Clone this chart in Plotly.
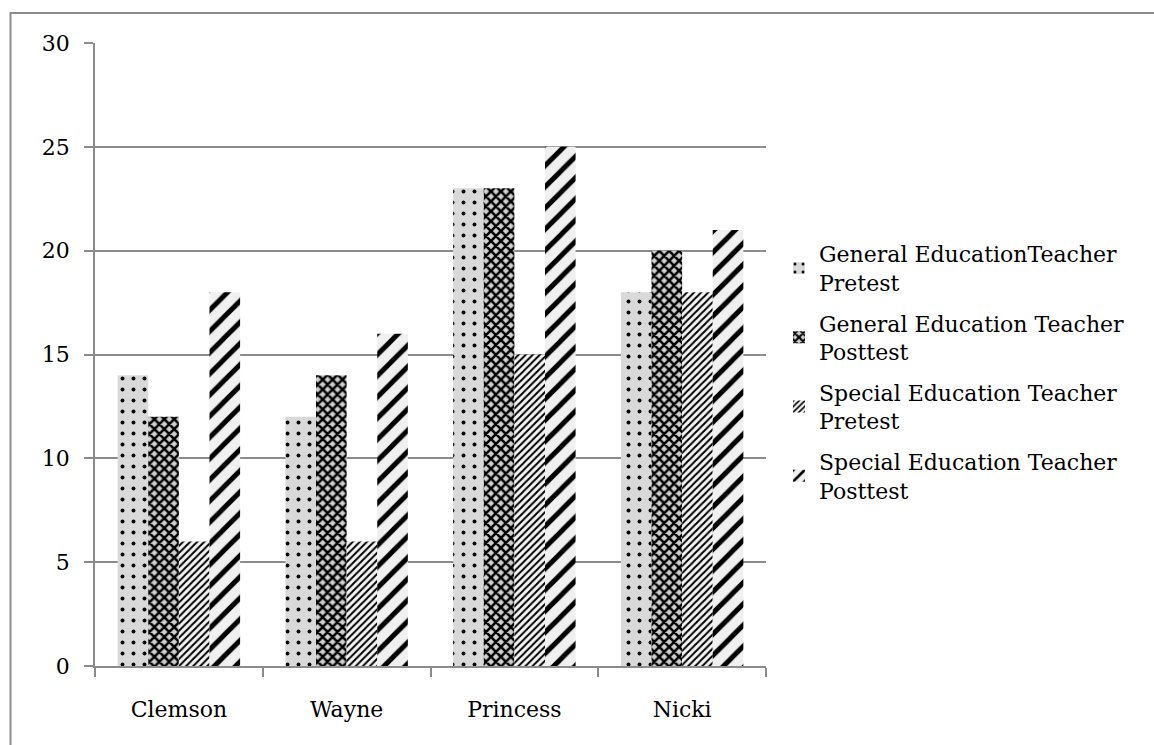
import plotly.graph_objects as go

categories = ["Clemson", "Wayne", "Princess", "Nicki"]
series_names = [
    "General EducationTeacher<br>Pretest",
    "General Education Teacher<br>Posttest",
    "Special Education Teacher<br>Pretest",
    "Special Education Teacher<br>Posttest",
]
gen_pre = [14, 12, 23, 18]
gen_post = [12, 14, 23, 20]
spec_pre = [6, 6, 15, 18]
spec_post = [18, 16, 25, 21]
values = [gen_pre, gen_post, spec_pre, spec_post]

patterns = [
    dict(shape=".", size=11, solidity=0.1, fgcolor="black", bgcolor="#d9d9d9", fillmode="replace"),
    dict(shape="x", size=7, solidity=0.6, fgcolor="black", bgcolor="#d0d0d0", fillmode="replace"),
    dict(shape="/", size=5, solidity=0.4, fgcolor="black", bgcolor="#f4f4f4", fillmode="replace"),
    dict(shape="/", size=15, solidity=0.33, fgcolor="black", bgcolor="#f0f0f0", fillmode="replace"),
]

FONT = "DejaVu Serif"
fig = go.Figure()
for i, (name, vals) in enumerate(zip(series_names, values)):
    fig.add_trace(go.Bar(
        x=categories, y=vals, name=name,
        legendgroup=f"g{i}",
        marker=dict(color="#f0f0f0", line=dict(width=0), pattern=patterns[i]),
    ))

L, R, T, B = 95, 766, 43, 666
W, H = 1154, 745
pw, ph = R - L, B - T

def px(x):
    return (x - L) / pw

def py(y):
    return (B - y) / ph

fig.update_layout(
    width=W, height=H,
    margin=dict(l=L, r=W - R, t=T, b=H - B, pad=0),
    paper_bgcolor="white", plot_bgcolor="white",
    barmode="group", bargap=0.27, bargroupgap=0,
    font=dict(family=FONT, size=22, color="black"),
    showlegend=True,
    legend=dict(x=px(779), xanchor="left", y=py(372), yanchor="middle",
                font=dict(family=FONT, size=22, color="black"),
                tracegroupgap=9, itemwidth=30, bgcolor="rgba(0,0,0,0)"),
    xaxis=dict(showline=True, linecolor="#8c8c8c", linewidth=1.5,
               ticks="outside", tickson="boundaries", ticklen=9, tickcolor="#8c8c8c",
               tickwidth=1.5, ticklabelstandoff=23, showgrid=False),
    yaxis=dict(range=[0, 30], dtick=5, showline=True, linecolor="#8c8c8c", linewidth=1.5,
               ticks="outside", ticklen=9, tickcolor="#8c8c8c", tickwidth=1.5,
               showgrid=True, gridcolor="#8c8c8c", gridwidth=1.5,
               zeroline=False, ticklabelstandoff=10),
    shapes=[
        dict(type="rect", xref="paper", yref="paper",
             x0=px(10.5), x1=px(1160), y0=py(13), y1=py(760),
             line=dict(color="#8c8c8c", width=2), fillcolor="rgba(0,0,0,0)", layer="below"),
    ],
)

fig.write_html("out.html", config={"displayModeBar": False},
               post_script="document.body.style.margin='0';")
